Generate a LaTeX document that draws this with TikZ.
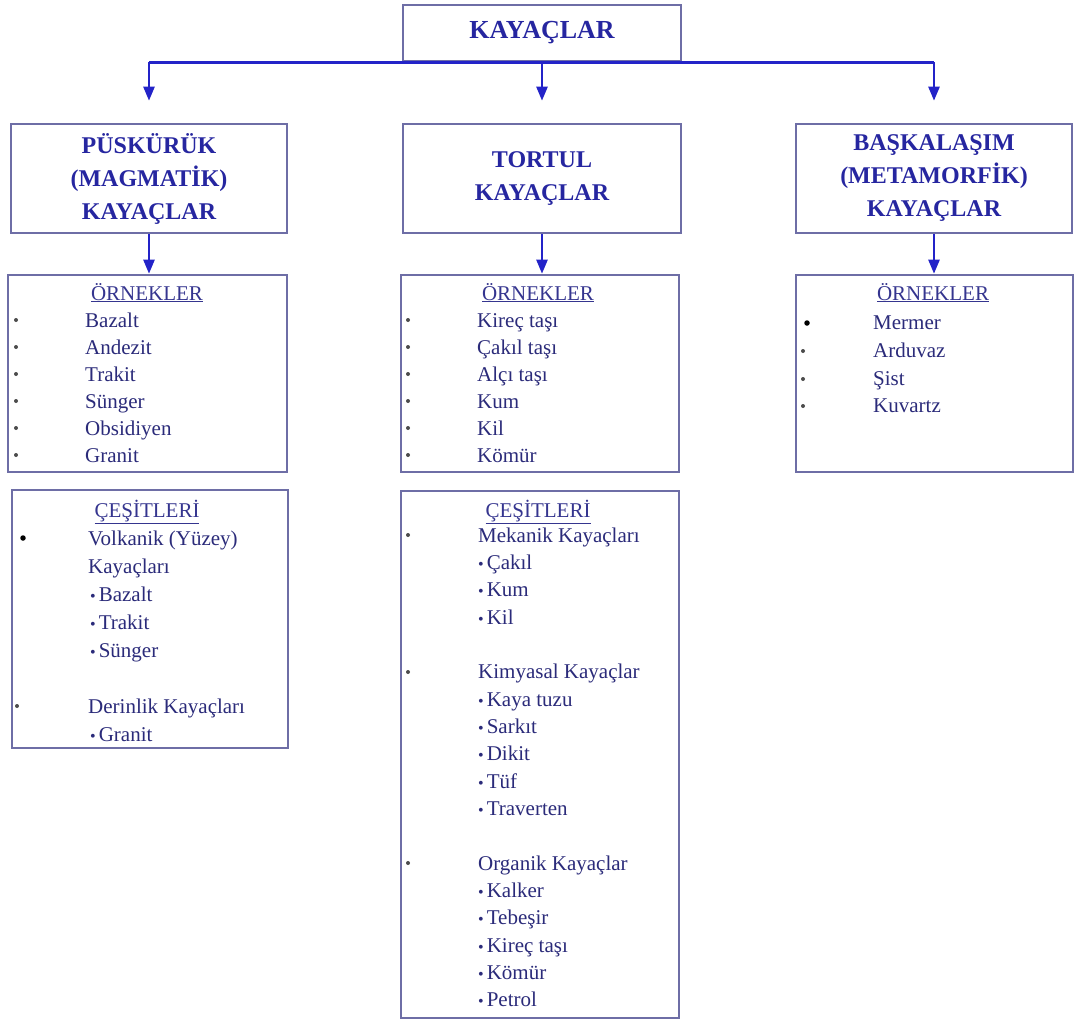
\documentclass[tikz,border=0pt]{standalone}
\usepackage{fontspec}
\setmainfont{Liberation Serif}
\usetikzlibrary{arrows.meta}
\definecolor{bord}{HTML}{6E6EA6}
\definecolor{conncol}{HTML}{2323C8}
\definecolor{headcol}{HTML}{2626A0}
\definecolor{bodycol}{HTML}{2B2B7A}
\definecolor{subhead}{HTML}{35358F}
\newcommand\subbul{{\fontsize{16}{16}\selectfont •}\kern3pt}
\tikzset{
  box/.style={draw=bord, line width=2.6pt, fill=white, inner sep=0pt, rectangle},
  titlebox/.style={box, text=headcol, font=\fontsize{24}{33}\selectfont\bfseries, align=center},
  conn/.style={draw=conncol, line width=2.4pt},
  arr/.style={conn, -{Triangle[width=11pt,length=14pt]}},
  item/.style={anchor=base west, inner sep=0pt, text=bodycol, font=\fontsize{21}{21}\selectfont},
  hdr/.style={anchor=base, inner sep=0pt, text=subhead, font=\fontsize{21}{21}\selectfont},
  dot/.style={circle, fill=black!70, inner sep=0pt, minimum size=4pt},
  bigdot/.style={circle, fill=black, inner sep=0pt, minimum size=5.5pt}
}
\begin{document}
\begin{tikzpicture}[x=1pt,y=-1pt]
\useasboundingbox[fill=white] (0,0) rectangle (1075,1023);

% top
\node[titlebox, minimum width=278pt, minimum height=56pt, font=\fontsize{26}{30}\selectfont\bfseries] (top) at (542,33) {KAYAÇLAR};

% level 2
\node[titlebox, minimum width=276pt, minimum height=109pt] (p1) at (149,178.5) {PÜSKÜRÜK\\(MAGMATİK)\\KAYAÇLAR};
\node[titlebox, minimum width=278pt, minimum height=109pt] (s1) at (542,178.5) {TORTUL\\KAYAÇLAR};
\node[titlebox, minimum width=276pt, minimum height=109pt] (m1) at (934,178.5) {BAŞKALAŞIM\\(METAMORFİK)\\KAYAÇLAR};

% level 3
\node[box, minimum width=279pt, minimum height=197pt] (ex1) at (147.5,373.5) {};
\node[box, minimum width=278pt, minimum height=197pt] (ex2) at (540,373.5) {};
\node[box, minimum width=277pt, minimum height=197pt] (ex3) at (934.5,373.5) {};

% level 4
\node[box, minimum width=276pt, minimum height=258pt] (ty1) at (150,619) {};
\node[box, minimum width=278pt, minimum height=527pt] (ty2) at (540,754.5) {};

% connectors
\coordinate (jl) at (p1.north |- top.south);
\coordinate (jr) at (m1.north |- top.south);
\draw[conn] (jl) -- (jr);
\draw[arr, shorten >=22pt] (jl) -- (p1.north);
\draw[arr, shorten >=22pt] (top.south) -- (s1.north);
\draw[arr, shorten >=22pt] (jr) -- (m1.north);
\draw[arr] (p1.south) -- (p1.south |- ex1.north);
\draw[arr] (s1.south) -- (s1.south |- ex2.north);
\draw[arr] (m1.south) -- (m1.south |- ex3.north);

% ORNEKLER 1
\node[hdr] (h1) at (147,300) {\underline{ÖRNEKLER}};
\foreach \t [count=\i] in {Bazalt,Andezit,Trakit,Sünger,Obsidiyen,Granit}{
  \node[item] (ea\i) at (85,{300+27*\i}) {\t};
  \node[dot] (ba\i) at (16,{293+27*\i}) {};
}
% ORNEKLER 2
\node[hdr] (h2) at (538,300) {\underline{ÖRNEKLER}};
\foreach \t [count=\i] in {Kireç taşı,Çakıl taşı,Alçı taşı,Kum,Kil,Kömür}{
  \node[item] (eb\i) at (477,{300+27*\i}) {\t};
  \node[dot] (bb\i) at (408,{293+27*\i}) {};
}
% ORNEKLER 3
\node[hdr] (h3) at (933,300) {\underline{ÖRNEKLER}};
\foreach \t [count=\i] in {Mermer,Arduvaz,Şist,Kuvartz}{
  \node[item] (ec\i) at (873,{302+27.7*\i}) {\t};
}
\node[bigdot] (bc1) at (807,323) {};
\node[dot] (bc2) at (803,351) {};
\node[dot] (bc3) at (803,379) {};
\node[dot] (bc4) at (803,406) {};

% CESITLERI 1
\node[hdr] (h4) at (147,517) {\underline{ÇEŞİTLERİ}};
\node[item] (ta1) at (88,545) {Volkanik (Yüzey)};
\node[item] (ta2) at (88,573) {Kayaçları};
\node[item] (ta3) at (90,601) {\subbul Bazalt};
\node[item] (ta4) at (90,629) {\subbul Trakit};
\node[item] (ta5) at (90,657) {\subbul Sünger};
\node[item] (ta6) at (88,713) {Derinlik Kayaçları};
\node[item] (ta7) at (90,741) {\subbul Granit};
\node[bigdot] (da1) at (23,538) {};
\node[dot] (da2) at (17,706) {};

% CESITLERI 2
\node[hdr] (h5) at (538,517) {\underline{ÇEŞİTLERİ}};
\foreach \t/\k [count=\i] in {Mekanik Kayaçları/0,\subbul Çakıl/1,\subbul Kum/2,\subbul Kil/3,Kimyasal Kayaçlar/5,\subbul Kaya tuzu/6,\subbul Sarkıt/7,\subbul Dikit/8,\subbul Tüf/9,\subbul Traverten/10,Organik Kayaçlar/12,\subbul Kalker/13,\subbul Tebeşir/14,\subbul Kireç taşı/15,\subbul Kömür/16,\subbul Petrol/17}{
  \node[item] (tb\i) at (478,{542+27.35*\k}) {\t};
}
\node[dot] (db1) at (408,535) {};
\node[dot] (db2) at (408,672) {};
\node[dot] (db3) at (408,863) {};
\end{tikzpicture}
\end{document}
